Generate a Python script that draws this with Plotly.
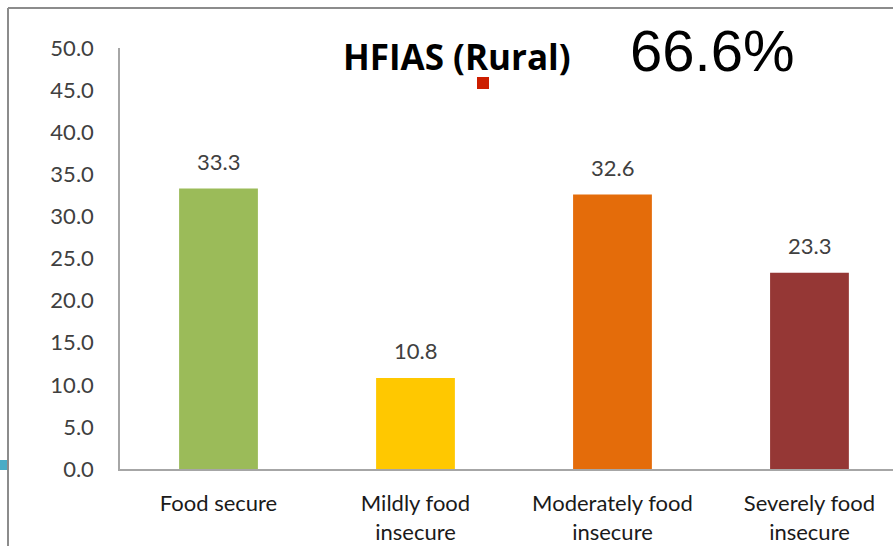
import plotly.graph_objects as go

categorias = ["Food secure", "Mildly food insecure", "Moderately food insecure", "Severely food insecure"]
rotulos = ["Food secure", "Mildly food<br>insecure", "Moderately food<br>insecure", "Severely food<br>insecure"]
valores = [33.3, 10.8, 32.6, 23.3]
cores = ["#9BBB59", "#FFC800", "#E46C0A", "#953735"]
y_ticks = [0, 5, 10, 15, 20, 25, 30, 35, 40, 45, 50]

# area do grafico em pixels: x 120..893, y 48..469
def px_x(p):
    return (p - 120) / 773


def px_y(p):
    return (469 - p) / 421


fig = go.Figure(
    go.Bar(
        x=categorias,
        y=valores,
        marker=dict(color=cores, line=dict(width=0)),
        width=0.4,
    )
)

for cat, v in zip(categorias, valores):
    fig.add_annotation(
        x=cat, y=v, text=f"{v:.1f}", showarrow=False,
        yanchor="bottom", yshift=12,
        font=dict(family="Lato", size=22, color="#404040"),
    )

fig.update_layout(
    width=893,
    height=546,
    margin=dict(l=120, r=0, t=48, b=77),
    paper_bgcolor="white",
    plot_bgcolor="white",
    showlegend=False,
    font=dict(family="Lato", color="#262626"),
)

fig.update_xaxes(
    range=[-0.5, 3.424],
    tickvals=categorias,
    ticktext=rotulos,
    tickfont=dict(family="Lato", size=22, color="#1a1a1a"),
    showline=True,
    linecolor="#A6A6A6",
    linewidth=1.5,
    showgrid=False,
    ticks="",
    ticklabelstandoff=14,
)
fig.update_yaxes(
    range=[0, 50],
    tickvals=y_ticks,
    tickformat=".1f",
    tickfont=dict(family="Lato", size=22, color="#404040"),
    showline=True,
    linecolor="#A6A6A6",
    linewidth=1.5,
    showgrid=False,
    zeroline=False,
    ticks="",
    ticklabelstandoff=20,
)

fig.add_annotation(
    x=px_x(457), y=px_y(57), xref="paper", yref="paper",
    xanchor="center", yanchor="middle",
    text="<b>HFIAS (Rural)</b>", showarrow=False,
    font=dict(family="Open Sans", size=35, color="#000000"),
)
fig.add_annotation(
    x=px_x(712), y=px_y(50), xref="paper", yref="paper",
    xanchor="center", yanchor="middle",
    text="66.6%", showarrow=False,
    font=dict(family="Liberation Sans", size=58, color="#000000"),
)

# moldura e detalhes decorativos
fig.add_shape(type="line", xref="paper", yref="paper",
              x0=px_x(8), x1=px_x(900), y0=px_y(8), y1=px_y(8),
              line=dict(color="#8C8C8C", width=2))
fig.add_shape(type="line", xref="paper", yref="paper",
              x0=px_x(8), x1=px_x(8), y0=px_y(8), y1=px_y(550),
              line=dict(color="#8C8C8C", width=2))
fig.add_shape(type="rect", xref="paper", yref="paper",
              x0=px_x(477), x1=px_x(489), y0=px_y(77), y1=px_y(89),
              fillcolor="#CC1E00", line=dict(width=0))
fig.add_shape(type="rect", xref="paper", yref="paper",
              x0=px_x(0), x1=px_x(7), y0=px_y(460), y1=px_y(470),
              fillcolor="#4BACC6", line=dict(width=0))

fig.write_html(
    "out.html",
    config={"displayModeBar": False},
    post_script="document.body.style.margin='0';",
)
